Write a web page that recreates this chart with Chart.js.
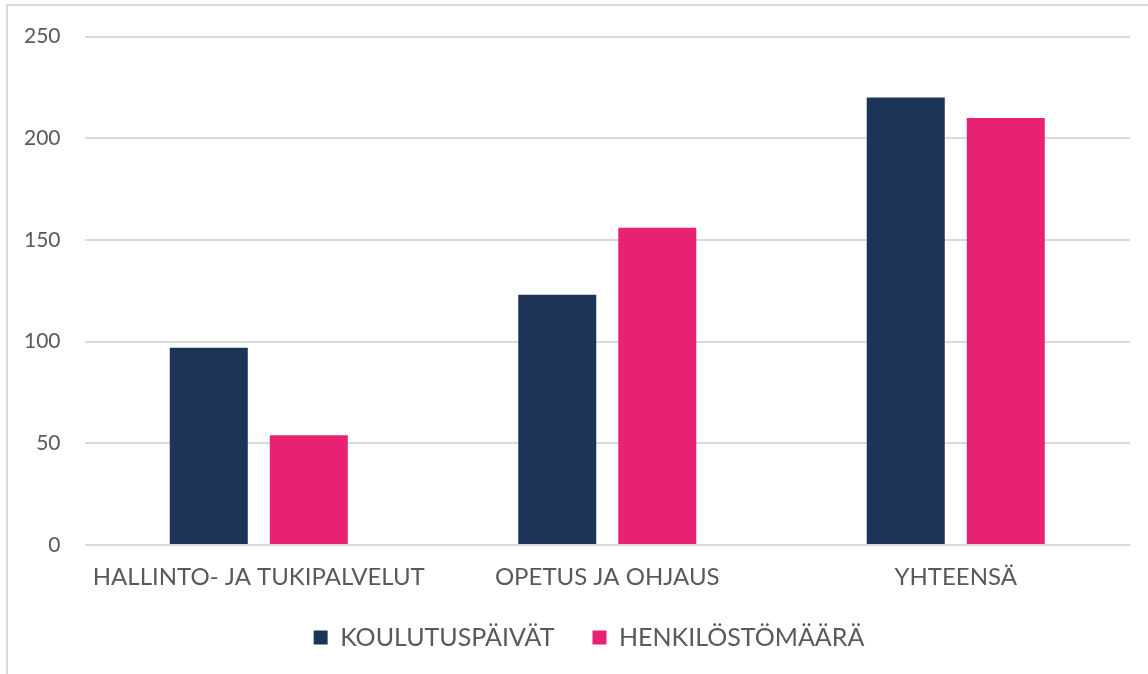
<!DOCTYPE html>
<html>
<head>
<meta charset="utf-8">
<script src="https://cdn.jsdelivr.net/npm/chart.js@4"></script>
<style>
  html, body { margin: 0; padding: 0; background: #fff; overflow: hidden; }
  #wrap { position: relative; width: 1148px; height: 674px; }
  #frame { position: absolute; left: 6px; top: 4px; width: 1200px; height: 700px;
           border-left: 2px solid #d9d9d9; border-top: 2px solid #d9d9d9; }
  canvas { position: absolute; left: 0; top: 0; }
</style>
</head>
<body>
<div id="wrap">
  <div id="frame"></div>
  <canvas id="chart" width="1148" height="674"></canvas>
</div>
<script>
const categories = ['HALLINTO- JA TUKIPALVELUT', 'OPETUS JA OHJAUS', 'YHTEENSÄ'];
const koulutuspaivat = [97, 123, 220];
const henkilostomaara = [54, 156, 210];
const seriesNames = ['KOULUTUSPÄIVÄT', 'HENKILÖSTÖMÄÄRÄ'];

const textColor = '#595959';
const fontFamily = 'Lato, "Open Sans", sans-serif';

// the legend in the original sits a bit right of centre
const legendShift = {
    id: 'legendShift',
    afterLayout(chart) {
        chart.legend.left += 24;
        chart.legend.right += 24;
    }
};

new Chart(document.getElementById('chart').getContext('2d'), {
    type: 'bar',
    data: {
        labels: categories,
        datasets: [{
            label: seriesNames[0],
            data: koulutuspaivat,
            backgroundColor: '#1d3459',
            categoryPercentage: 0.574,
            barPercentage: 0.78,
        }, {
            label: seriesNames[1],
            data: henkilostomaara,
            backgroundColor: '#e82273',
            categoryPercentage: 0.574,
            barPercentage: 0.78,
        }]
    },
    options: {
        responsive: false,
        animation: false,
        devicePixelRatio: 1,
        layout: {
            padding: { top: 17, right: 18, bottom: 14, left: 0 }
        },
        plugins: {
            tooltip: { enabled: false },
            legend: {
                position: 'bottom',
                labels: {
                    color: textColor,
                    font: { family: fontFamily, size: 25 },
                    boxWidth: 14,
                    boxHeight: 14,
                    padding: 38,
                }
            }
        },
        scales: {
            x: {
                grid: { display: false, drawTicks: false },
                border: { display: false },
                ticks: {
                    color: textColor,
                    font: { family: fontFamily, size: 24, lineHeight: 1 },
                    padding: 20,
                    maxRotation: 0,
                },
                // fixed height keeps the legend where the original has it
                afterFit(scale) { scale.height = 42; }
            },
            y: {
                min: 0,
                max: 250,
                grid: { color: '#d9d9d9', lineWidth: 2, drawTicks: false },
                border: { display: false },
                ticks: {
                    stepSize: 50,
                    color: textColor,
                    font: { family: fontFamily, size: 21 },
                    padding: 24,
                }
            }
        }
    },
    plugins: [legendShift]
});
</script>
</body>
</html>
